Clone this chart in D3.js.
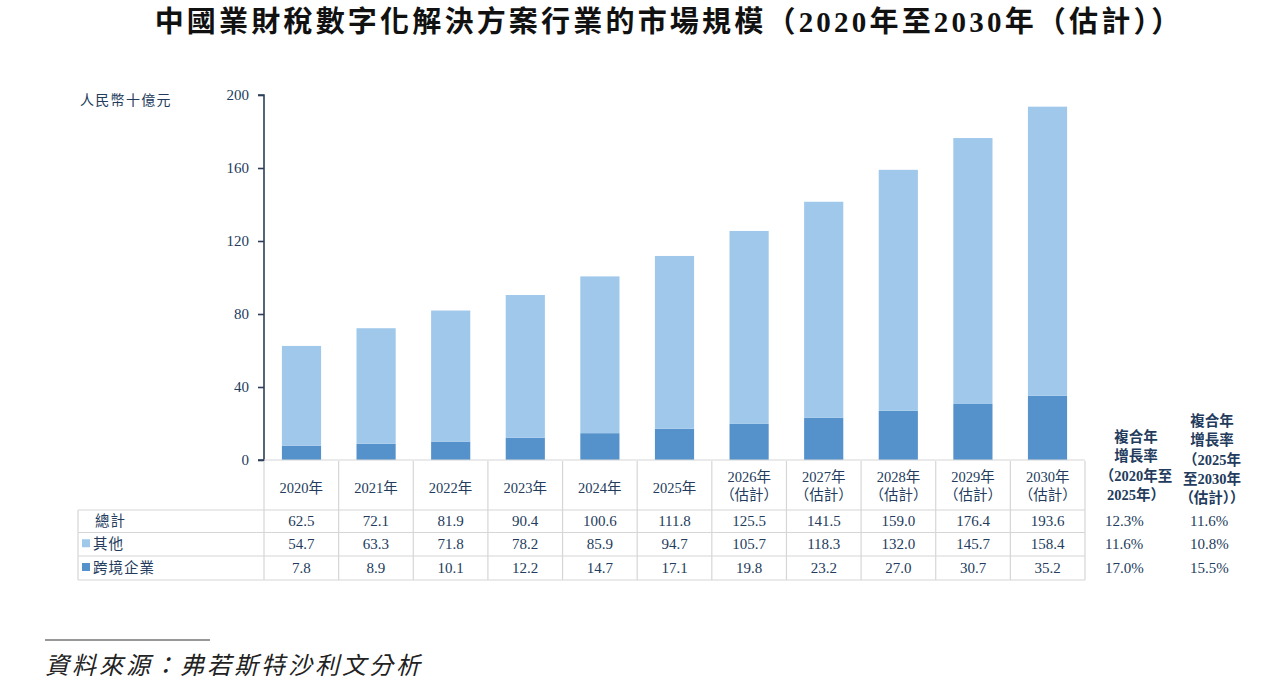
<!DOCTYPE html>
<html>
<head>
<meta charset="utf-8">
<script src="https://cdn.jsdelivr.net/npm/d3@7"></script>
<style>
  body { margin: 0; background: #fff; }
  svg { display: block; }
</style>
</head>
<body>
<script>
// Values
const years = ["2020年", "2021年", "2022年", "2023年", "2024年", "2025年",
  "2026年\n(估計)", "2027年\n(估計)", "2028年\n(估計)", "2029年\n(估計)", "2030年\n(估計)"]
const total = [62.5, 72.1, 81.9, 90.4, 100.6, 111.8, 125.5, 141.5, 159.0, 176.4, 193.6]
const others = [54.7, 63.3, 71.8, 78.2, 85.9, 94.7, 105.7, 118.3, 132.0, 145.7, 158.4]
const crossBorder = [7.8, 8.9, 10.1, 12.2, 14.7, 17.1, 19.8, 23.2, 27.0, 30.7, 35.2]
const yTicks = [0, 40, 80, 120, 160, 200]
const rowLabels = ["總計", "其他", "跨境企業"]
const cagr1 = ["12.3%", "11.6%", "17.0%"]
const cagr2 = ["11.6%", "10.8%", "15.5%"]
const cagr1Head = ["複合年", "增長率", "（2020年至", "2025年）"]
const cagr2Head = ["複合年", "增長率", "（2025年", "至2030年", "（估計））"]

const W = 1266, H = 686
const cLight = "#9fc8eb", cDark = "#5592cc"
const ink = "#233b5c", grid = "#d6d6d6"
const serif = "'Liberation Serif','Noto Sans CJK TC',serif"

const svg = d3.select("body").append("svg").attr("width", W).attr("height", H)

//Title
svg.append("text")
  .attr("x", 669).attr("y", 32)
  .attr("text-anchor", "middle")
  .attr("font-family", "'Liberation Serif','Noto Sans CJK TC',serif")
  .attr("font-weight", "bold")
  .attr("font-size", 29)
  .attr("letter-spacing", 3.2)
  .attr("fill", "#111")
  .text("中國業財稅數字化解決方案行業的市場規模（2020年至2030年（估計））")

//Scales
const x = d3.scaleBand().domain(d3.range(years.length)).range([264, 1085]).paddingInner(0.475).paddingOuter(0.24)
const colW = 821 / years.length
const colX = i => 264 + i * colW
const y = d3.scaleLinear().domain([0, 200]).range([460, 95])

//Y axis
const yAxis = svg.append("g")
  .attr("transform", "translate(264,0)")
  .call(d3.axisLeft(y).tickValues(yTicks).tickSize(6).tickPadding(9))
yAxis.select(".domain").attr("stroke", "#2d3f58").attr("stroke-width", 1.6).attr("d", "M-6,95H0V460H-6")
yAxis.selectAll(".tick line").attr("stroke", "#2d3f58").attr("stroke-width", 1.6)
yAxis.selectAll(".tick text").attr("font-family", serif).attr("font-size", 15).attr("fill", ink)

svg.append("text").attr("x", 80).attr("y", 105)
  .attr("font-family", "'Noto Sans CJK TC'").attr("font-size", 14).attr("fill", ink)
  .attr("letter-spacing", 1.3)
  .text("人民幣十億元")

//Stacked bars
const stackData = years.map((d, i) => ({i: i, cross: crossBorder[i], other: others[i]}))
const series = d3.stack().keys(["cross", "other"])(stackData)
svg.append("g").selectAll("g").data(series).join("g")
  .attr("fill", (d, k) => k === 0 ? cDark : cLight)
  .selectAll("rect").data(d => d).join("rect")
  .attr("x", d => x(d.data.i))
  .attr("width", x.bandwidth())
  .attr("y", d => y(d[1]))
  .attr("height", d => y(d[0]) - y(d[1]))

//Table
const rowY = [460, 510, 532.5, 556, 580]
const tbl = svg.append("g").attr("stroke", grid).attr("stroke-width", 1.2)
//vertical lines in header row and body
d3.range(years.length + 1).forEach(i => {
  tbl.append("line").attr("x1", colX(i)).attr("x2", colX(i)).attr("y1", 461).attr("y2", rowY[4])
})
tbl.append("line").attr("x1", 78).attr("x2", 78).attr("y1", rowY[1]).attr("y2", rowY[4])
rowY.slice(1).forEach(yy => {
  tbl.append("line").attr("x1", 78).attr("x2", 1085).attr("y1", yy).attr("y2", yy)
})
//baseline of the chart
svg.append("line").attr("x1", 264).attr("x2", 1085).attr("y1", 460).attr("y2", 460)
  .attr("stroke", grid).attr("stroke-width", 1.2)

//header labels
years.forEach((lab, i) => {
  const lines = lab.split("\n")
  const t = svg.append("text").attr("text-anchor", "middle")
    .attr("font-family", serif).attr("font-size", 14.5).attr("fill", ink)
  lines.forEach((ln, k) => {
    t.append("tspan").attr("x", colX(i) + colW / 2)
      .attr("y", lines.length === 1 ? 493 : 482 + k * 18)
      .text(ln === "(估計)" ? "（估計）" : ln)
  })
})

//body rows
const rows = [total, others, crossBorder]
rows.forEach((vals, r) => {
  const cy = (rowY[r + 1] + rowY[r + 2]) / 2 + 5
  vals.forEach((v, i) => {
    svg.append("text").attr("x", colX(i) + colW / 2).attr("y", cy)
      .attr("text-anchor", "middle").attr("font-family", serif).attr("font-size", 15).attr("fill", ink)
      .text(v.toFixed(1))
  })
  if (r > 0) {
    svg.append("rect").attr("x", 82).attr("y", cy - 10).attr("width", 8).attr("height", 8)
      .attr("fill", r === 1 ? cLight : cDark)
  }
  svg.append("text").attr("x", r === 0 ? 95 : 93).attr("y", cy)
    .attr("font-family", "'Noto Sans CJK TC'").attr("font-size", 14.5).attr("fill", ink)
    .attr("letter-spacing", 1)
    .text(rowLabels[r])
  svg.append("text").attr("x", 1105).attr("y", cy)
    .attr("font-family", serif).attr("font-size", 15).attr("fill", ink).text(cagr1[r])
  svg.append("text").attr("x", 1190).attr("y", cy)
    .attr("font-family", serif).attr("font-size", 15).attr("fill", ink).text(cagr2[r])
})

//CAGR headers
function head(lines, cx, y0) {
  const t = svg.append("text").attr("text-anchor", "middle")
    .attr("font-family", "'Liberation Serif','Noto Sans CJK TC',serif")
    .attr("font-weight", "bold").attr("font-size", 14.5).attr("fill", ink)
  lines.forEach((ln, k) => t.append("tspan").attr("x", cx).attr("y", y0 + k * 19.3).text(ln))
}
head(cagr1Head, 1136, 442)
head(cagr2Head, 1212, 426)

//Source
svg.append("line").attr("x1", 45).attr("x2", 210).attr("y1", 640).attr("y2", 640)
  .attr("stroke", "#333").attr("stroke-width", 1.2)
svg.append("text").attr("x", 45).attr("y", 674)
  .attr("font-family", "'Noto Sans CJK TC'").attr("font-style", "italic")
  .attr("font-size", 24).attr("fill", "#222")
  .attr("letter-spacing", 3)
  .text("資料來源：弗若斯特沙利文分析")
</script>
</body>
</html>
